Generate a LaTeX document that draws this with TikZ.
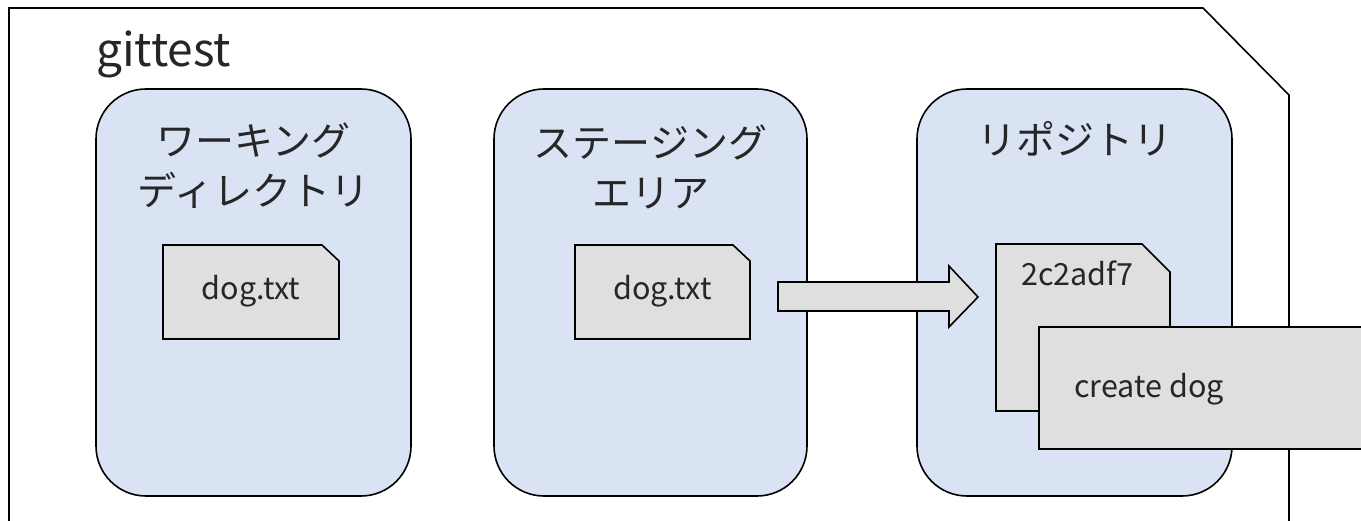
\documentclass[tikz,border=0pt]{standalone}
\usepackage{fontspec}
\setmainfont{Noto Sans CJK JP}
\definecolor{areafill}{HTML}{DAE3F3}
\definecolor{filefill}{HTML}{DFDFDF}
\definecolor{txt}{HTML}{262626}
\tikzset{
  areabox/.style={draw=black, line width=1.6pt, fill=areafill, rounded corners=50pt},
  filebox/.style={draw=black, line width=1.6pt, fill=filefill},
  jplabel/.style={text=txt, font=\fontsize{39}{50}\selectfont, align=center, inner sep=0pt},
  filelabel/.style={text=txt, font=\fontsize{30.5}{34}\selectfont, inner sep=0pt},
}
\begin{document}
\begin{tikzpicture}[x=1pt,y=-1pt]
\useasboundingbox (0,0) rectangle (1361,521);
\clip (0,0) rectangle (1361,521);
\fill[white] (0,0) rectangle (1361,521);
% outer frame
\draw[line width=1.6pt] (9,540) -- (9,8) -- (1203,8) -- (1289,95) -- (1289,540);
\node[anchor=base west, text=txt, font=\fontsize{46}{50}\selectfont, inner sep=0pt] (title) at (96,67) {gittest};
% areas
\draw[areabox] (96,89) rectangle (411,496);
\draw[areabox] (494,89) rectangle (807,496);
\draw[areabox] (917,89) rectangle (1232,496);
\node[jplabel] (wd) at (253.5,166) {ワーキング\\ディレクトリ};
\node[jplabel] (sa) at (650.5,167) {ステージング\\エリア};
\node[jplabel] (repo) at (1074.5,139) {リポジトリ};
% files
\draw[filebox] (163,245) -- (322,245) -- (339,261) -- (339,339) -- (163,339) -- cycle;
\node[filelabel] (f1) at (251,291) {dog.txt};
\draw[filebox] (575,245) -- (733,245) -- (750,261) -- (750,339) -- (575,339) -- cycle;
\node[filelabel] (f2) at (662.5,291) {dog.txt};
% block arrow
\draw[filebox, line join=miter] (778,282) -- (949,282) -- (949,266) -- (978,297) -- (949,327) -- (949,311) -- (778,311) -- cycle;
% commit
\draw[filebox] (996,244) -- (1142,244) -- (1170,272) -- (1170,411) -- (996,411) -- cycle;
\node[filelabel, anchor=west] (hash) at (1021,273) {2c2adf7};
\draw[filebox] (1039,327) rectangle (1380,449);
\node[filelabel, anchor=west] (msg) at (1074,389) {create dog};
\end{tikzpicture}
\end{document}
